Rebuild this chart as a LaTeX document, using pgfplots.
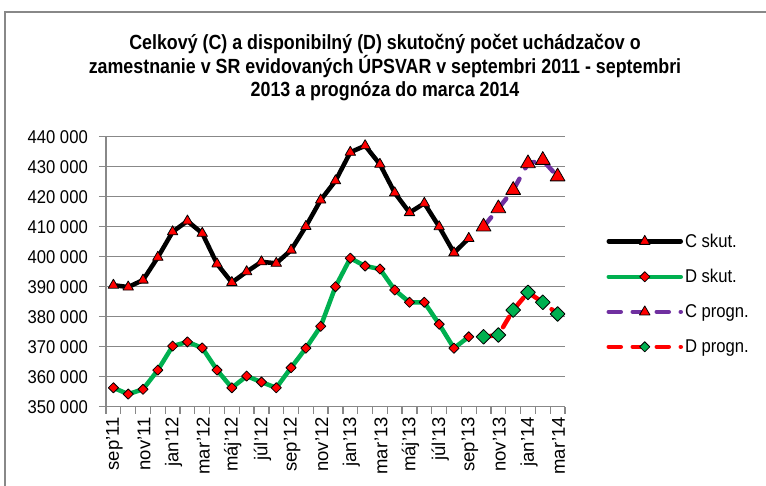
\documentclass[border=0pt]{standalone}
\usepackage{pgfplots}
\pgfplotsset{compat=1.18}
\usepackage{fontspec}
\setmainfont{Liberation Sans}[FakeStretch=0.9]
\newfontfamily\xlabfont{Liberation Sans}
\newfontfamily\titlefont{Liberation Sans}[FakeStretch=0.87]
\definecolor{gridgray}{HTML}{888888}
\definecolor{xlgreen}{HTML}{00B050}
\definecolor{xlpurple}{HTML}{7030A0}

\pgfplotstableread{
i v
0 390500
1 389900
2 392200
3 399800
4 408300
5 411900
6 407800
7 397600
8 391400
9 395000
10 398300
11 397800
12 402200
13 410100
14 418900
15 425300
16 434800
17 437000
18 430800
19 421300
20 414700
21 417800
22 410000
23 401300
24 406100
}\cskut
\pgfplotstableread{
i v
0 356300
1 354200
2 355800
3 362200
4 370200
5 371600
6 369600
7 362200
8 356300
9 360200
10 358200
11 356300
12 363000
13 369500
14 376800
15 390000
16 399500
17 396900
18 395900
19 388900
20 384800
21 384800
22 377500
23 369500
24 373300
}\dskut
\pgfplotstableread{
i v
25 410000
26 416100
27 422200
28 431100
29 432200
30 426700
}\cprogn
\pgfplotstableread{
i v
25 373300
26 373900
27 382200
28 388100
29 384800
30 380900
}\dprogn

\begin{document}
\begin{tikzpicture}
\path[use as bounding box] (0bp,0bp) rectangle (766bp,486bp);
\draw[gridgray, line width=1.5bp] (5bp,-20bp) -- (5bp,474bp) -- (800bp,474bp);
\node[align=center, font=\titlefont\bfseries\fontsize{20.5bp}{23.5bp}\selectfont] at (385bp,418bp)
 {Celkový (C) a disponibilný (D) skutočný počet uchádzačov o\\
  zamestnanie v SR evidovaných ÚPSVAR v septembri 2011 - septembri\\
  2013 a prognóza do marca 2014};
\begin{axis}[
  at={(106bp,79.3bp)}, anchor=south west,
  scale only axis, width=459bp, height=270bp,
  xmin=-0.5, xmax=30.5, ymin=350000, ymax=440000,
  clip=false,
  axis x line*=bottom, axis y line*=left,
  axis line style={gridgray, line width=1.3bp, -},
  tick style={gridgray, line width=1.3bp},
  tick align=outside, major tick length=7bp,
  ymajorgrids, major grid style={gridgray, line width=1.3bp},
  ytick={350000,360000,...,440000},
  yticklabels={350 000,360 000,370 000,380 000,390 000,400 000,410 000,420 000,430 000,440 000},
  scaled y ticks=false,
  yticklabel style={font=\fontsize{18.5bp}{20bp}\selectfont, inner sep=0pt, anchor=east, xshift=-11bp},
  xtick={-0.5,0.5,...,30.5}, xticklabels={},
  extra x ticks={0,2,...,30},
  extra x tick labels={sep’11,nov’11,jan’12,mar’12,máj’12,júl’12,sep’12,nov’12,jan’13,mar’13,máj’13,júl’13,sep’13,nov’13,jan’14,mar’14},
  extra x tick style={tick style={draw=none}, grid=none,
     xticklabel style={font=\xlabfont\fontsize{18.5bp}{20bp}\selectfont, rotate=90, anchor=east, yshift=-1bp}},
  legend style={at={(1.09,0.648)}, anchor=north west, draw=none, fill=none,
     font=\fontsize{18.5bp}{20bp}\selectfont, row sep=16.5bp, inner sep=0pt},
  legend cell align=left,
  legend image code/.code={
    \draw[mark repeat=2, mark phase=2, #1] plot coordinates {(0bp,0bp) (36bp,0bp) (72bp,0bp)};
  },
  every axis plot/.append style={line join=round},
]
\addplot[black, line width=4.5bp, mark=triangle*, mark size=6bp,
   mark options={fill=red, draw=black, line width=0.8bp, solid}, forget plot] table[x=i,y=v] {\cskut};
\addplot[xlgreen, line width=4.5bp, mark=square*, mark size=3.6bp,
   mark options={rotate=45, fill=red, draw=black, line width=0.8bp, solid}, forget plot] table[x=i,y=v] {\dskut};
\addplot[xlpurple, line width=4.5bp, line cap=round, dash pattern=on 12bp off 12bp, mark=triangle*, mark size=8.5bp,
   mark options={fill=red, draw=black, line width=0.8bp, solid}, forget plot] table[x=i,y=v] {\cprogn};
\addplot[red, line width=4.5bp, line cap=round, dash pattern=on 12bp off 12bp, mark=square*, mark size=5.2bp,
   mark options={rotate=45, fill=xlgreen, draw=black, line width=0.8bp, solid}, forget plot] table[x=i,y=v] {\dprogn};

\addlegendimage{black, line width=4.5bp, line cap=round, mark=triangle*, mark size=6bp,
   mark options={fill=red, draw=black, line width=0.8bp, solid}}
\addlegendentry{C skut.\vphantom{Cpg}}
\addlegendimage{xlgreen, line width=4.5bp, line cap=round, mark=square*, mark size=3.6bp,
   mark options={rotate=45, fill=red, draw=black, line width=0.8bp, solid}}
\addlegendentry{D skut.\vphantom{Cpg}}
\addlegendimage{xlpurple, line width=4.5bp, line cap=round, dash pattern=on 12bp off 12bp, mark=triangle*, mark size=6bp,
   mark options={fill=red, draw=black, line width=0.8bp, solid}}
\addlegendentry{C progn.\vphantom{Cpg}}
\addlegendimage{red, line width=4.5bp, line cap=round, dash pattern=on 12bp off 12bp, mark=square*, mark size=3.6bp,
   mark options={rotate=45, fill=xlgreen, draw=black, line width=0.8bp, solid}}
\addlegendentry{D progn.\vphantom{Cpg}}
\end{axis}
\end{tikzpicture}
\end{document}
